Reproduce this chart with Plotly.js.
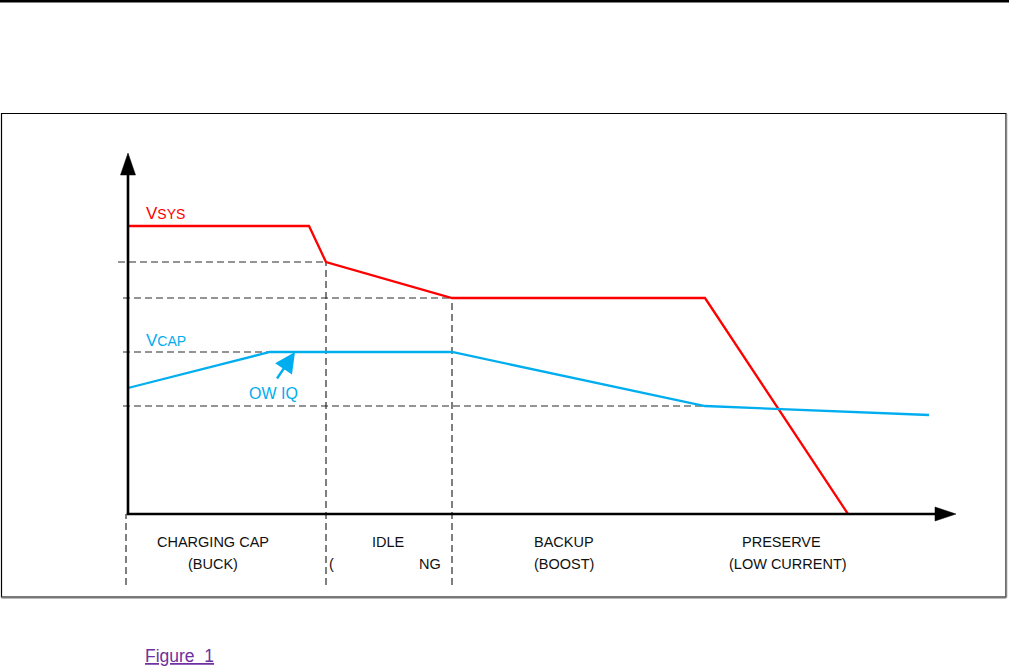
<!DOCTYPE html>
<html>
<head>
<meta charset="utf-8">
<script src="https://cdn.plot.ly/plotly-3.0.1.min.js"></script>
<style>
html,body{margin:0;padding:0;background:#fff;}
#chart{width:1009px;height:667px;}
</style>
</head>
<body>
<div id="chart"></div>
<script>
// Schematic time axis (arbitrary units) and voltage levels (arbitrary units)
const vsysT = [0, 181, 198, 324, 577, 720];
const vsysV = [288, 288, 252, 216, 216, 0];
const vcapT = [0, 142, 324, 577, 801];
const vcapV = [126, 162, 162, 108, 99];

// Phase labels
const phaseNames = ["CHARGING CAP", "IDLE", "BACKUP", "PRESERVE"];
const phaseSubs = ["(BUCK)", "", "(BOOST)", "(LOW CURRENT)"];
const phaseCenters = [85, 260, 436, 653];
const phaseSubCenters = [85, 260, 436, 660];

// Phase boundary times (vertical dashed guides)
const phaseBounds = [-2, 198, 324];
const boundTops = [0, 252, 216];

// Horizontal dashed guide levels and their ends
const guideLevels = [252, 216, 162, 108];
const guideStarts = [-10, -5, -5, -5];
const guideEnds = [198, 324, 324, 577];

const RED = "#FF0000";
const BLUE = "#00AEEF";
const FONT = "Liberation Sans, Arial, sans-serif";

const traces = [
  {x: vsysT, y: vsysV, type: "scatter", mode: "lines", line: {color: RED, width: 2.3}, hoverinfo: "skip"},
  {x: vcapT, y: vcapV, type: "scatter", mode: "lines", line: {color: BLUE, width: 2.3}, hoverinfo: "skip"}
];

const shapes = [];
// top rule
shapes.push({type: "line", xref: "paper", yref: "paper", x0: 0, x1: 1, y0: 1 - 1.2/667, y1: 1 - 1.2/667, line: {color: "#000", width: 2.5}});
// frame
shapes.push({type: "rect", xref: "paper", yref: "paper", x0: 1.5/1009, x1: 1006/1009, y0: 1 - 597/667, y1: 1 - 113.5/667, line: {color: "#000", width: 1.2}, layer: "below"});
shapes.push({type: "line", xref: "paper", yref: "paper", x0: 1.5/1009, x1: 1006/1009, y0: 1 - 597.5/667, y1: 1 - 597.5/667, line: {color: "#777", width: 2}});
shapes.push({type: "line", xref: "paper", yref: "paper", x0: 1006.5/1009, x1: 1006.5/1009, y0: 1 - 597.5/667, y1: 1 - 113.5/667, line: {color: "#888", width: 1.5}});

// horizontal dashed guides
guideLevels.forEach((lv, i) => {
  shapes.push({type: "line", xref: "x", yref: "y", x0: guideStarts[i], x1: guideEnds[i], y0: lv, y1: lv,
    line: {color: "#2a2a2a", width: 1.2, dash: "7px,4px"}, layer: "below"});
});
// vertical dashed guides
phaseBounds.forEach((b, i) => {
  shapes.push({type: "line", xref: "x", yref: "y", x0: b, x1: b, y0: -71, y1: boundTops[i],
    line: {color: "#2a2a2a", width: 1.2, dash: "7px,4px"}, layer: "below"});
});

// axes with arrows
shapes.push({type: "line", xref: "x", yref: "y", x0: 0, x1: 0, y0: 0, y1: 341, line: {color: "#000", width: 2.6}});
shapes.push({type: "path", xref: "x", yref: "y", path: "M -7.5,339 L 0,361 L 7.5,339 Z", fillcolor: "#000", line: {color: "#000", width: 0.5}});
shapes.push({type: "line", xref: "x", yref: "y", x0: -1.3, x1: 809, y0: 0, y1: 0, line: {color: "#000", width: 2.6}});
shapes.push({type: "path", xref: "x", yref: "y", path: "M 807,7 L 828,0 L 807,-7 Z", fillcolor: "#000", line: {color: "#000", width: 0.5}});

const annotations = [];
const lab = (x, y, text, color, size, xanchor) => ({x, y, xref: "x", yref: "y", text, showarrow: false,
  xanchor: xanchor || "center", yanchor: "middle", font: {family: FONT, size, color}});

annotations.push(lab(16, 301, "V<span style='font-size:14px'>SYS</span>", RED, 17, "left"));
annotations.push(lab(16, 174, "V<span style='font-size:14px'>CAP</span>", BLUE, 17, "left"));
annotations.push(lab(145, 121, "OW IQ", BLUE, 16));
// arrow to VCAP plateau
annotations.push({x: 167, y: 162, xref: "x", yref: "y", ax: 148, ay: 134, axref: "x", ayref: "y", text: "",
  showarrow: true, arrowhead: 2, arrowsize: 1.7, arrowwidth: 2.4, arrowcolor: BLUE});

phaseNames.forEach((n, i) => {
  annotations.push(lab(phaseCenters[i], -28, n, "#111", 14.5));
  if (phaseSubs[i]) annotations.push(lab(phaseSubCenters[i], -50, phaseSubs[i], "#111", 14.5));
});
// partially hidden sub-label in IDLE phase
annotations.push(lab(203, -50, "(", "#111", 14.5));
annotations.push(lab(302, -50, "NG", "#111", 14.5));

// figure link
annotations.push({x: 143/1009, y: 1 - 656/667, xref: "paper", yref: "paper", text: "<u>Figure&nbsp;&nbsp;1</u>",
  showarrow: false, xanchor: "left", yanchor: "middle", font: {family: FONT, size: 17.5, color: "#7030A0"}});

const layout = {
  width: 1009, height: 667,
  margin: {l: 0, r: 0, t: 0, b: 0},
  paper_bgcolor: "#fff", plot_bgcolor: "#fff",
  showlegend: false,
  xaxis: {range: [-128, 881], visible: false, fixedrange: true},
  yaxis: {range: [-153, 514], visible: false, fixedrange: true},
  shapes, annotations
};

Plotly.newPlot("chart", traces, layout, {displayModeBar: false, staticPlot: true});
</script>
</body>
</html>
